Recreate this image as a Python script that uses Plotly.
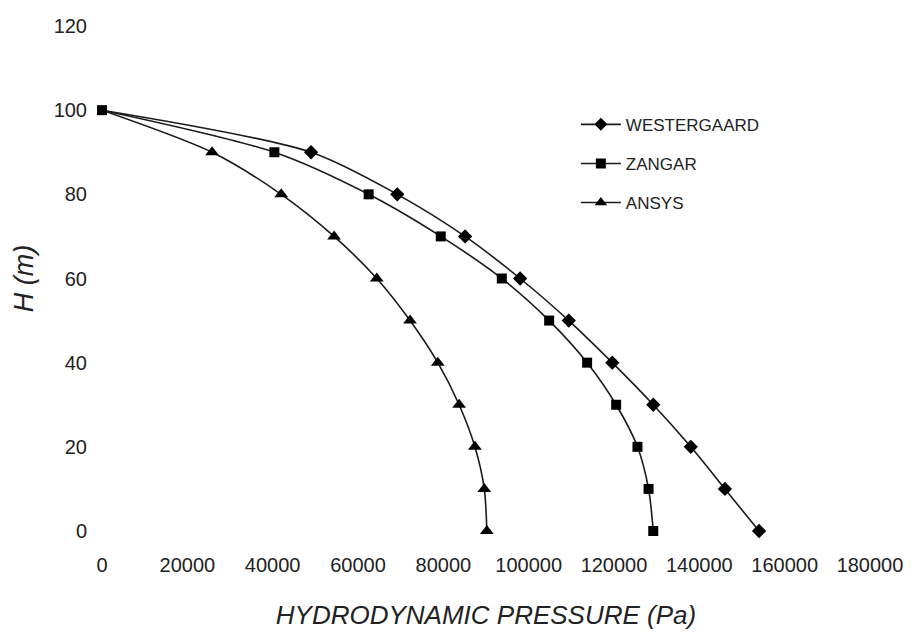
import plotly.graph_objects as go

H = [100, 90, 80, 70, 60, 50, 40, 30, 20, 10, 0]
westergaard = [0, 49000, 69200, 85100, 98000, 109400, 119600, 129200, 138000, 146000, 154000]
zangar = [0, 40400, 62500, 79400, 93700, 104800, 113700, 120500, 125500, 128100, 129200]
ansys = [0, 25800, 42000, 54400, 64400, 72200, 78700, 83700, 87400, 89600, 90200]

x_ticks = [0, 20000, 40000, 60000, 80000, 100000, 120000, 140000, 160000, 180000]
y_ticks = [0, 20, 40, 60, 80, 100, 120]

# drawn in this order (last on top); legend order set by rank
series = [
    ("ANSYS", ansys, "triangle-up", 12, 3, True),
    ("WESTERGAARD", westergaard, "diamond", 11, 1, True),
    ("ZANGAR", zangar, "square", 10, 2, False),
]

fig = go.Figure()
for name, vals, sym, sz, rank, hide_first in series:
    sizes = [sz] * len(vals)
    if hide_first:
        sizes[0] = 0  # the shared top point shows only the square, as in the original
    fig.add_trace(go.Scatter(
        x=vals, y=H, name=name, mode="lines+markers",
        line=dict(color="#1a1a1a", width=1.6, shape="spline", smoothing=0.8),
        marker=dict(symbol=sym, size=sizes, color="#000000", opacity=1,
                    line=dict(width=0)),
        opacity=1,
        cliponaxis=False, legendgroup=f"g{rank}", legendrank=rank,
    ))

font_family = "Liberation Sans, Arial, sans-serif"
fig.update_layout(
    width=914, height=639,
    margin=dict(l=102, r=44, t=26, b=108),
    paper_bgcolor="white", plot_bgcolor="white",
    font=dict(family=font_family, color="#222222"),
    showlegend=True,
    legend=dict(x=0.617, y=0.840, xanchor="left", yanchor="top",
                font=dict(size=17, color="#222222", family=font_family),
                bgcolor="rgba(0,0,0,0)", tracegroupgap=14,
                itemwidth=40),
    xaxis=dict(range=[0, 180000], tickvals=x_ticks,
               ticktext=[str(v) for v in x_ticks],
               showgrid=False, zeroline=False, showline=False, ticks="",
               tickfont=dict(size=20, color="#222222"), ticklabelstandoff=20,
               title=dict(text="<i>HYDRODYNAMIC PRESSURE (Pa)</i>",
                          font=dict(size=26, color="#222222"), standoff=30)),
    yaxis=dict(range=[0, 120], tickvals=y_ticks,
               showgrid=False, zeroline=False, showline=False, ticks="",
               tickfont=dict(size=20, color="#222222"), ticklabelstandoff=14,
               title=dict(text="<i>H (m)</i>",
                          font=dict(size=27, color="#222222"), standoff=12)),
)

fig.write_html("out.html")
